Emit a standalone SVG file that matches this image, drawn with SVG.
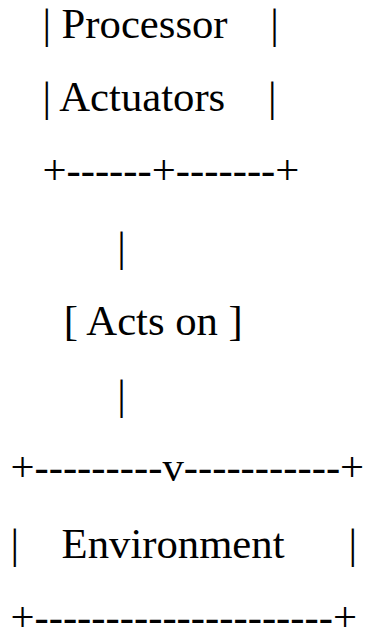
<svg xmlns="http://www.w3.org/2000/svg" width="365" height="632" viewBox="0 0 365 632">
<style>
text{font-family:"Liberation Serif","Times New Roman",serif;font-size:42.7px;fill:#000;white-space:pre}
</style>
<rect width="365" height="632" fill="#fff"/>
<g id="processor">
<text x="42.4" y="37.7" xml:space="preserve">| Processor    |</text>
<text x="42.4" y="111" xml:space="preserve">| Actuators    |</text>
<text x="42.4" y="183.7" xml:space="preserve">+------+-------+</text>
</g>
<g id="connectors">
<text x="117.2" y="260.7">|</text>
<text x="117.2" y="409.3">|</text>
</g>
<g id="acts-on">
<text x="63.8" y="335" xml:space="preserve">[ Acts on ]</text>
</g>
<g id="environment">
<text x="10.4" y="481" xml:space="preserve">+---------v-----------+</text>
<text x="10.4" y="558" xml:space="preserve">|    Environment      |</text>
<text x="10.4" y="630.5" xml:space="preserve">+---------------------+</text>
</g>
</svg>
